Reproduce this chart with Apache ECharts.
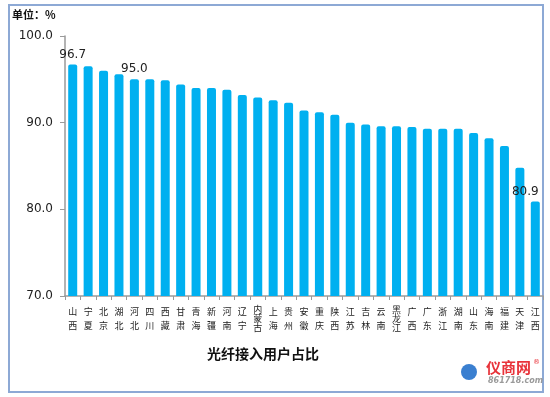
<!DOCTYPE html>
<html>
<head>
<meta charset="utf-8">
<script src="https://cdn.jsdelivr.net/npm/echarts@6/dist/echarts.min.js"></script>
<style>
html, body { margin: 0; padding: 0; background: #fff; }
#chart { width: 550px; height: 397px; }
</style>
</head>
<body>
<div id="chart"></div>
<script>
var provinces = ['山西', '宁夏', '北京', '湖北', '河北', '四川', '西藏', '甘肃', '青海', '新疆', '河南',
    '辽宁', '内蒙古', '上海', '贵州', '安徽', '重庆', '陕西', '江苏', '吉林', '云南', '黑龙江',
    '广西', '广东', '浙江', '湖南', '山东', '海南', '福建', '天津', '江西'];
var fiberShare = [96.7, 96.5, 96.0, 95.6, 95.0, 95.0, 94.9, 94.4, 94.0, 94.0, 93.8,
    93.2, 92.9, 92.6, 92.3, 91.4, 91.2, 90.9, 90.0, 89.8, 89.6, 89.6,
    89.5, 89.3, 89.3, 89.3, 88.8, 88.2, 87.3, 84.8, 80.9];
var yTicks = [70, 80, 90, 100];
// only these bars carry a value label
var labelled = {'山西': 0, '河北': 0, '江西': -10};

var chart = echarts.init(document.getElementById('chart'));

var barData = provinces.map(function (p, i) {
    var d = {value: fiberShare[i]};
    if (p in labelled) {
        d.label = {show: true, position: 'top', distance: 4, offset: [labelled[p], 0]};
    }
    return d;
});

chart.setOption({
    animation: false,
    grid: {left: 65, right: 7, top: 36, bottom: 101},
    xAxis: {
        type: 'category',
        data: provinces,
        axisLine: {lineStyle: {color: '#9a9a9a', width: 1.5}},
        axisTick: {show: true, alignWithLabel: false, length: 4, lineStyle: {color: '#9a9a9a'}},
        axisLabel: {
            interval: 0,
            margin: 9,
            fontFamily: 'Noto Sans CJK SC',
            fontSize: 9,
            color: '#222',
            lineHeight: 14,
            formatter: function (v) {
                if (v.length > 2) {
                    return v.split('').map(function (c) { return '{t|' + c + '}'; }).join('\n');
                }
                return v.split('').join('\n');
            },
            rich: {t: {fontSize: 9, lineHeight: 9, fontFamily: 'Noto Sans CJK SC', color: '#222'}}
        }
    },
    yAxis: {
        type: 'value',
        min: yTicks[0],
        max: yTicks[yTicks.length - 1],
        interval: 10,
        splitLine: {show: false},
        axisLine: {show: true, lineStyle: {color: '#9a9a9a', width: 1.5}},
        axisTick: {show: true, length: 5, lineStyle: {color: '#9a9a9a'}},
        axisLabel: {
            margin: 12,
            fontFamily: 'DejaVu Sans',
            fontSize: 12,
            color: '#222',
            formatter: function (v) { return v.toFixed(1); }
        }
    },
    series: [{
        type: 'bar',
        data: barData,
        barWidth: 9,
        itemStyle: {color: '#00B0F0', borderRadius: [2, 2, 0, 0]},
        label: {
            show: false,
            fontFamily: 'DejaVu Sans',
            fontSize: 12,
            color: '#222',
            formatter: function (p) { return p.value.toFixed(1); }
        }
    }],
    graphic: [
        {type: 'rect', shape: {x: 9, y: 5, width: 534, height: 387},
            style: {fill: null, stroke: '#8DA9D5', lineWidth: 2}, silent: true},
        {type: 'text', left: 12, top: 9,
            style: {text: '单位：%', font: 'bold 11px "Noto Sans CJK SC"', fill: '#111'}},
        {type: 'text', left: 207, top: 347,
            style: {text: '光纤接入用户占比', font: 'bold 14px "Noto Sans CJK SC"', fill: '#111'}},
        {type: 'circle', shape: {cx: 469, cy: 372, r: 8}, style: {fill: '#3a7fd0'}},
        {type: 'text', left: 486, top: 360,
            style: {text: '仪商网', font: 'bold 15px "Noto Sans CJK SC"', fill: '#e8333a'}},
        {type: 'text', left: 533, top: 359,
            style: {text: '®', font: '7px "DejaVu Sans"', fill: '#e8333a'}},
        {type: 'text', left: 488, top: 377,
            style: {text: '861718.com', font: 'italic bold 8px "DejaVu Sans"', fill: '#9a9a9a'}}
    ]
});
</script>
</body>
</html>
